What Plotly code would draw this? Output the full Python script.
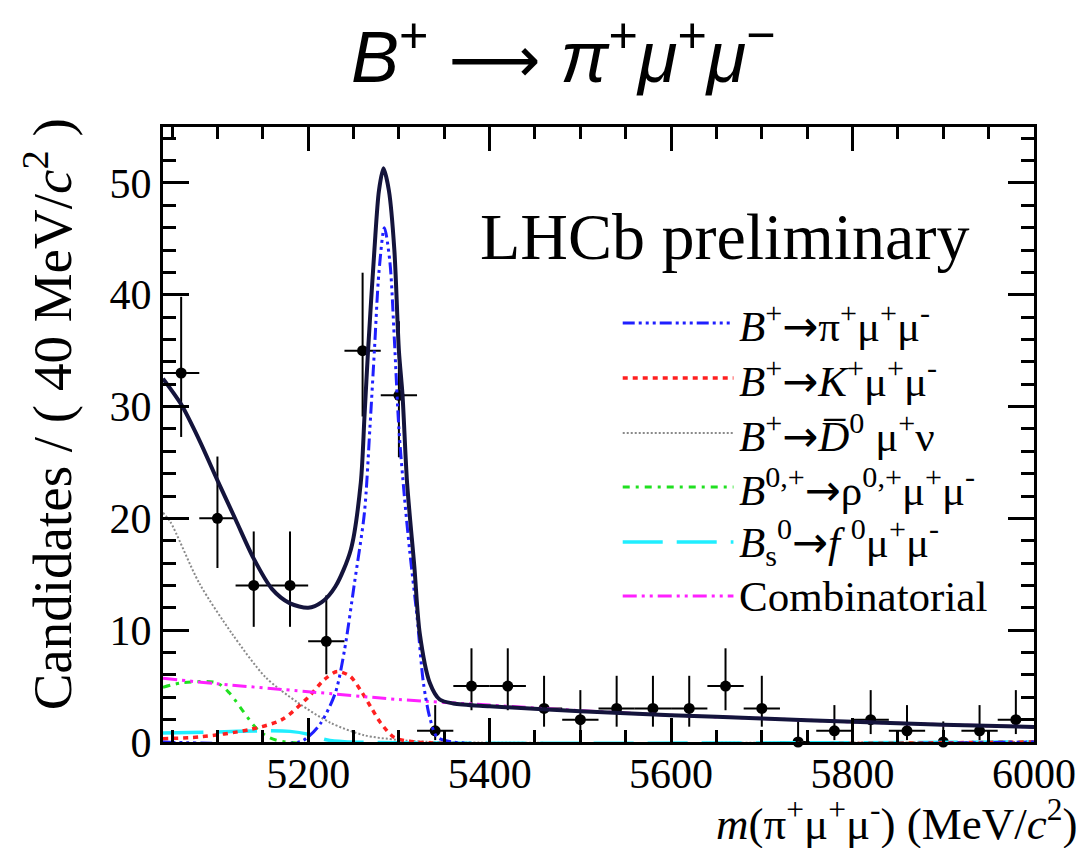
import plotly.graph_objects as go

# ---------------- data ----------------
bin_centers = [5060, 5100, 5140, 5180, 5220, 5260, 5300, 5340, 5380, 5420, 5460, 5500,
               5540, 5580, 5620, 5660, 5700, 5740, 5780, 5820, 5860, 5900, 5940, 5980]
counts = [33, 20, 14, 14, 9, 35, 31, 1, 5, 5, 3, 2, 3, 3, 3, 5, 3, 0, 1, 2, 1, 0, 1, 2]
err_up = [6.81, 5.53, 4.83, 4.83, 4.11, 6.97, 6.63, 2.30, 3.38, 3.38, 2.92, 2.64,
          2.92, 2.92, 2.92, 3.38, 2.92, 1.84, 2.30, 2.64, 2.30, 1.84, 2.30, 2.64]
err_dn = [5.72, 4.44, 3.70, 3.70, 2.94, 5.89, 5.54, 0.83, 2.16, 2.16, 1.63, 1.29,
          1.63, 1.63, 1.63, 2.16, 1.63, 0.001, 0.83, 1.29, 0.83, 0.001, 0.83, 1.29]
bin_half = [20] * len(bin_centers)

# total fit
tot_x = [5040, 5060, 5080, 5100, 5120, 5140, 5160, 5180, 5200, 5215, 5230, 5247, 5258,
         5262, 5266, 5273, 5278, 5283, 5289, 5295, 5300, 5304, 5309, 5317, 5323, 5334,
         5345, 5360, 5400, 5500, 5600, 5700, 5800, 5900, 6000]
tot_y = [32.5, 30.2, 27.0, 23.4, 19.9, 16.4, 13.7, 12.4, 12.0, 12.5, 13.9, 17.2, 23.2,
         29.0, 35.0, 44.0, 49.3, 51.3, 49.3, 44.0, 35.0, 31.0, 23.2, 15.7, 9.7, 5.3,
         3.8, 3.45, 3.2, 2.75, 2.4, 2.1, 1.8, 1.55, 1.35]

# B+ -> pi+ mu+ mu- signal
sig_x = [5040, 5190, 5200, 5214, 5230, 5240, 5251, 5262, 5268, 5273, 5278, 5284, 5290,
         5295, 5300, 5306, 5312, 5320, 5327, 5334, 5342, 5360, 6000]
sig_y = [0, 0, 0.45, 1.7, 4.4, 8.2, 14.2, 20.5, 28, 35, 42, 46, 43,
         36, 28, 22, 17, 11.2, 5.3, 2.2, 0.45, 0, 0]

# B+ -> K+ mu+ mu-
kmm_x = [5040, 5080, 5135, 5171, 5200, 5218, 5232, 5246, 5258, 5270, 5280, 5295, 5320, 6000]
kmm_y = [0.3, 0.45, 1.1, 2.0, 4.0, 5.6, 6.3, 5.9, 4.6, 3.0, 1.7, 0.4, 0, 0]

# B+ -> D0bar mu+ nu
dmn_x = [5040, 5048, 5080, 5116, 5153, 5189, 5225, 5262, 5298, 5340, 6000]
dmn_y = [20.5, 19.7, 14.2, 9.7, 5.8, 3.5, 1.7, 0.6, 0.2, 0, 0]

# B0,+ -> rho mu+ mu-
rho_x = [5040, 5062, 5099, 5113, 5127, 5142, 5157, 5175, 6000]
rho_y = [4.9, 5.3, 5.3, 4.4, 2.9, 1.3, 0.4, 0, 0]

# Bs0 -> f0 mu+ mu-
f0_x = [5040, 5100, 5150, 5180, 5200, 5220, 5240, 6000]
f0_y = [0.8, 0.9, 1.0, 0.95, 0.7, 0.2, 0.02, 0]

# combinatorial
comb_x = [5040, 5100, 5200, 5300, 5400, 5500, 5600, 5700, 5800, 5900, 6000]
comb_y = [5.7, 5.2, 4.5, 3.8, 3.3, 2.8, 2.4, 2.1, 1.8, 1.55, 1.35]

x_ticks = [5200, 5400, 5600, 5800, 6000]
y_ticks = [0, 10, 20, 30, 40, 50]

ARW = '<span style="font-family:DejaVu Sans">→</span>'
legend_labels = [
    "<i>B</i><sup>+</sup>" + ARW + "π<sup>+</sup>μ<sup>+</sup>μ<sup>-</sup>",
    "<i>B</i><sup>+</sup>" + ARW + "<i>K</i><sup>+</sup>μ<sup>+</sup>μ<sup>-</sup>",
    "<i>B</i><sup>+</sup>" + ARW + "<i>D̅</i><sup>0</sup> μ<sup>+</sup>ν",
    "<i>B</i><sup>0,+</sup>" + ARW + "ρ<sup>0,+</sup>μ<sup>+</sup>μ<sup>-</sup>",
    "<i>B</i><sub>s</sub><sup>0</sup>" + ARW + "<i>f</i> <sup>0</sup>μ<sup>+</sup>μ<sup>-</sup>",
    "Combinatorial",
]

# ---------------- styles ----------------
SERIF = "Liberation Serif"
SANS = "Liberation Sans"
W, H = 1088, 848
L, R, T, B = 163, 44, 127, 106

styles = {
    "sig": dict(color="#1f1fff", width=3, dash="12px,4px,3px,4px,3px,4px,3px,4px"),
    "kmm": dict(color="#ff2020", width=3.5, dash="5px,5px"),
    "dmn": dict(color="#8a8a8a", width=2, dash="2px,2px"),
    "rho": dict(color="#20e020", width=3, dash="7px,6px,3px,6px"),
    "f0": dict(color="#20eeff", width=3.5, dash="40px,14px"),
    "comb": dict(color="#ff20ff", width=3, dash="14px,5px,3px,5px,3px,5px"),
}


def px_x(p):
    return (p - L) / (W - L - R)


def px_y(p):
    return (H - B - p) / (H - T - B)


fig = go.Figure()

comp = [("dmn", dmn_x, dmn_y), ("rho", rho_x, rho_y), ("f0", f0_x, f0_y),
        ("kmm", kmm_x, kmm_y), ("comb", comb_x, comb_y), ("sig", sig_x, sig_y)]

fig.add_trace(go.Scatter(
    x=bin_centers, y=counts, mode="markers",
    marker=dict(color="black", size=11),
    error_y=dict(type="data", symmetric=False, array=err_up, arrayminus=err_dn,
                 color="black", thickness=2, width=0),
    error_x=dict(type="data", array=bin_half, color="black", thickness=2, width=0),
    cliponaxis=False, showlegend=False))

for key, xs, ys in comp:
    fig.add_trace(go.Scatter(x=xs, y=ys, mode="lines",
                             line=dict(shape="spline", smoothing=0.8, **styles[key]),
                             showlegend=False))

fig.add_trace(go.Scatter(x=tot_x, y=tot_y, mode="lines",
                         line=dict(color="#14143c", width=4, shape="spline", smoothing=0.8),
                         showlegend=False))

# legend drawn by hand (ROOT-style long samples)
rows = [323, 378, 433, 487, 542, 596]
keys = ["sig", "kmm", "dmn", "rho", "f0", "comb"]
shapes = []
annotations = []
for k, ry, lab in zip(keys, rows, legend_labels):
    st = styles[k]
    shapes.append(dict(type="line", xref="paper", yref="paper",
                       x0=px_x(628), x1=px_x(740), y0=px_y(ry), y1=px_y(ry),
                       line=dict(color=st["color"], width=st["width"], dash=st["dash"])))
    annotations.append(dict(text=lab, xref="paper", yref="paper", x=px_x(744), y=px_y(ry),
                            xanchor="left", yanchor="middle", showarrow=False,
                            font=dict(family=SERIF, size=43, color="black")))

annotations.append(dict(text="LHCb preliminary", xref="paper", yref="paper",
                        x=px_x(731), y=px_y(236), xanchor="center", yanchor="middle",
                        showarrow=False, font=dict(family=SERIF, size=66, color="black")))

annotations.append(dict(
    text="<i>B</i><sup>+</sup> <span style=\"font-family:DejaVu Sans;font-size:64px\">⟶</span> "
         "<i>π</i><sup>+</sup><i>μ</i><sup>+</sup><i>μ</i><sup>−</sup>",
    xref="paper", yref="paper", x=px_x(568), y=px_y(52), xanchor="center", yanchor="middle",
    showarrow=False, font=dict(family=SANS, size=72, color="black")))

annotations.append(dict(
    text="Candidates / ( 40 MeV/<i>c</i><sup>2</sup> )",
    xref="paper", yref="paper", x=px_x(47), y=px_y(116), xanchor="center", yanchor="top",
    textangle=-90, showarrow=False, font=dict(family=SERIF, size=55, color="black")))

annotations.append(dict(
    text="<i>m</i>(π<sup>+</sup>μ<sup>+</sup>μ<sup>-</sup>) (MeV/<i>c</i><sup>2</sup>)",
    xref="paper", yref="paper", x=px_x(1090), y=px_y(820), xanchor="right", yanchor="middle",
    showarrow=False, font=dict(family=SERIF, size=45, color="black")))

axis_common = dict(showline=True, linecolor="black", linewidth=3, mirror="allticks",
                   ticks="inside", tickcolor="black", tickwidth=2.5, showgrid=False,
                   zeroline=False, tickfont=dict(family=SERIF, size=42, color="black"))

fig.update_layout(
    width=W, height=H, margin=dict(l=L, r=R, t=T, b=B),
    paper_bgcolor="white", plot_bgcolor="white", showlegend=False,
    xaxis=dict(range=[5040, 6000], tickvals=x_ticks, ticklen=24, ticklabelstandoff=-7,
               minor=dict(dtick=50, tick0=5000, ticklen=12, ticks="inside",
                          tickcolor="black", tickwidth=2.5, showgrid=False),
               **axis_common),
    yaxis=dict(range=[0, 55], tickvals=y_ticks, ticklen=26,
               minor=dict(dtick=2, tick0=0, ticklen=13, ticks="inside",
                          tickcolor="black", tickwidth=2.5, showgrid=False),
               **axis_common),
    shapes=shapes, annotations=annotations,
)

fig.write_html("out.html")
